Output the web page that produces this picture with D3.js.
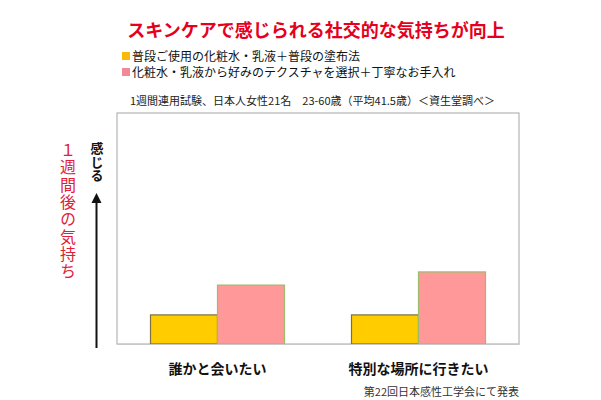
<!DOCTYPE html>
<html><head><meta charset="utf-8">
<script src="https://cdn.jsdelivr.net/npm/d3@7"></script>
<style>
html,body{margin:0;padding:0;background:#fff;}
svg{display:block;font-family:"Noto Sans CJK JP","Noto Sans",sans-serif;}
</style></head>
<body>
<script>
const title = "スキンケアで感じられる社交的な気持ちが向上";
const seriesNames = ["普段ご使用の化粧水・乳液＋普段の塗布法", "化粧水・乳液から好みのテクスチャを選択＋丁寧なお手入れ"];
const categories = ["誰かと会いたい", "特別な場所に行きたい"];
const usualCare = [12.6, 12.6];
const carefulCare = [25.5, 31.2];
const subtitle = "1週間連用試験、日本人女性21名　23-60歳（平均41.5歳）＜資生堂調べ＞";
const yLabel = "１週間後の気持ち";
const arrowLabel = "感じる";
const footnote = "第22回日本感性工学会にて発表";

const W = 601, H = 400;
const svg = d3.select("body").append("svg").attr("width", W).attr("height", H);

const plot = {left:117, right:519, top:113, bottom:344};
const fills = ["#ffcc00", "#ff9999"];
const strokes = ["#7d7040", "#9dbb6a"];
const legendFills = ["#f8b90a", "#f08a9a"];

const x0 = d3.scaleBand().domain(categories).range([plot.left, plot.right]).paddingInner(0).paddingOuter(0);
const x1 = d3.scaleBand().domain([0,1]).range([0, x0.bandwidth()]).paddingInner(0).paddingOuter(0.5);
const y = d3.scaleLinear().domain([0, 100]).range([plot.bottom, plot.top]);

// title
svg.append("text").attr("x", 316).attr("y", 37).attr("text-anchor","middle")
  .attr("font-size", 18).attr("font-weight","bold").attr("fill","#e60020").text(title);

// legend
seriesNames.forEach((s,i)=>{
  svg.append("rect").attr("x",122).attr("y",52+i*16).attr("width",8).attr("height",8).attr("fill",legendFills[i]);
  svg.append("text").attr("x",132).attr("y",60.5+i*16).attr("font-size",12).attr("fill","#111").text(s);
});

// subtitle
svg.append("text").attr("x",130).attr("y",105).attr("font-size",11).attr("fill","#222").text(subtitle);

// frame
svg.append("rect").attr("x",plot.left).attr("y",plot.top).attr("width",plot.right-plot.left).attr("height",plot.bottom-plot.top)
  .attr("fill","none").attr("stroke","#b5b5b5").attr("stroke-width",1.2);

// bars
const data = categories.map((c,i)=>({cat:c, vals:[usualCare[i], carefulCare[i]]}));
const g = svg.append("g");
data.forEach(d=>{
  d.vals.forEach((v,j)=>{
    g.append("rect")
      .attr("x", x0(d.cat)+x1(j))
      .attr("y", y(v))
      .attr("width", x1.bandwidth())
      .attr("height", y(0)-y(v))
      .attr("fill", fills[j]).attr("stroke", strokes[j]).attr("stroke-width",1.2);
  });
});

// x axis labels
const xAxis = d3.axisBottom(x0).tickSize(0).tickPadding(0);
const ax = svg.append("g").attr("transform",`translate(0,${plot.bottom})`).call(xAxis);
ax.select(".domain").attr("stroke","#c8c8c8");
ax.selectAll("text").attr("dy",0).attr("y",30).attr("font-size",14).attr("font-weight","bold")
  .attr("fill","#111").attr("font-family",'"Noto Sans CJK JP",sans-serif');

// arrow
svg.append("defs").append("marker").attr("id","ah").attr("viewBox","0 0 10 10").attr("refX",5).attr("refY",5)
  .attr("markerWidth",5).attr("markerHeight",6).attr("orient","auto")
  .append("path").attr("d","M0,0 L10,5 L0,10 z").attr("fill","#111");
svg.append("line").attr("x1",96.5).attr("x2",96.5).attr("y1",348).attr("y2",198)
  .attr("stroke","#111").attr("stroke-width",2).attr("marker-end","url(#ah)");

// vertical texts
svg.append("text").attr("x",97).attr("y",142).attr("font-size",13).attr("font-weight","bold")
  .attr("fill","#111").style("writing-mode","vertical-rl").style("letter-spacing","0.3px").text(arrowLabel);
svg.append("text").attr("x",68).attr("y",142).attr("font-size",16)
  .attr("fill","#e0203a").style("writing-mode","vertical-rl").style("letter-spacing","1.3px").text(yLabel);

// footnote
svg.append("text").attr("x",519).attr("y",396).attr("text-anchor","end").attr("font-size",11).attr("fill","#333").text(footnote);
</script>
</body></html>
